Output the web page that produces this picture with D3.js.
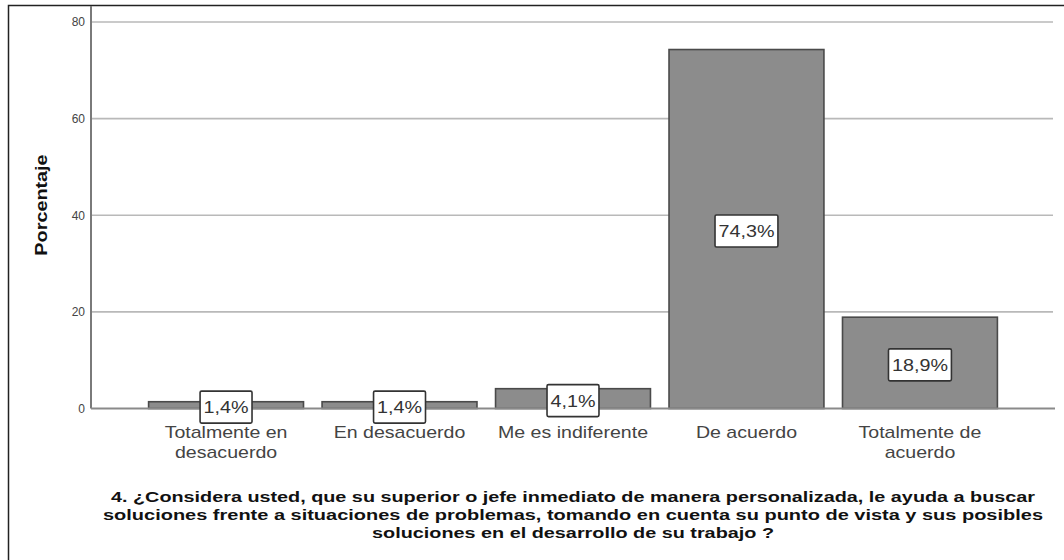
<!DOCTYPE html>
<html>
<head>
<meta charset="utf-8">
<script src="https://cdn.jsdelivr.net/npm/d3@7"></script>
<style>
  html, body { margin: 0; padding: 0; background: #fff; }
  svg { display: block; }
  text { font-family: "Liberation Sans", Arial, sans-serif; }
</style>
</head>
<body>
<svg id="chart" width="1064" height="560"></svg>
<script>
// Response categories (two-line labels where the original wraps)
const categories = [
  ["Totalmente en", "desacuerdo"],
  ["En desacuerdo"],
  ["Me es indiferente"],
  ["De acuerdo"],
  ["Totalmente de", "acuerdo"]
];
// Percentage of respondents for each category
const percentages = [1.4, 1.4, 4.1, 74.3, 18.9];
// Y axis ticks
const yTicks = [0, 20, 40, 60, 80];
const yTitle = "Porcentaje";
const titleLines = [
  "4. ¿Considera usted, que su superior o jefe inmediato de manera personalizada, le ayuda a buscar",
  "soluciones frente a situaciones de problemas, tomando en cuenta su punto de vista y sus posibles",
  "soluciones en el desarrollo de su trabajo ?"
];

const svg = d3.select("#chart");

// Widen a text element's glyphs horizontally by a factor
function stretch(sel, k) {
  sel.each(function () {
    const w = this.getComputedTextLength();
    d3.select(this).attr("textLength", w * k).attr("lengthAdjust", "spacingAndGlyphs");
  });
}

// Frame around the chart (left and top edges visible)
svg.append("rect")
  .attr("x", 8.5).attr("y", 5.5)
  .attr("width", 1070).attr("height", 570)
  .attr("fill", "none").attr("stroke", "#222").attr("stroke-width", 1.5);

const plot = { left: 91, right: 1055, top: 22, bottom: 408.5 };

const x = d3.scaleBand()
  .domain(d3.range(categories.length))
  .range([plot.left, plot.right])
  .paddingInner(0.107)
  .paddingOuter(0.332);

const y = d3.scaleLinear()
  .domain([0, 80])
  .range([plot.bottom, plot.top]);

// Horizontal gridlines
svg.append("g")
  .selectAll("line")
  .data(yTicks.filter(t => t > 0))
  .join("line")
  .attr("x1", plot.left).attr("x2", plot.right - 2)
  .attr("y1", d => y(d)).attr("y2", d => y(d))
  .attr("stroke", "#b9b9b9").attr("stroke-width", 1.6);

// Y axis with tick labels
const yAxis = svg.append("g")
  .attr("transform", `translate(${plot.left},0)`)
  .call(d3.axisLeft(y).tickValues(yTicks).tickSize(0).tickPadding(6));
yAxis.select(".domain").remove();
yAxis.selectAll("text")
  .attr("font-size", 12)
  .attr("fill", "#444")
  .attr("font-family", "'Liberation Sans Narrow', 'Liberation Sans', Arial, sans-serif");

// Bars
svg.append("g")
  .selectAll("rect")
  .data(percentages)
  .join("rect")
  .attr("x", (d, i) => x(i))
  .attr("y", d => y(d))
  .attr("width", x.bandwidth())
  .attr("height", d => y(0) - y(d))
  .attr("fill", "#8c8c8c")
  .attr("stroke", "#4a4a4a")
  .attr("stroke-width", 1.6);

// Axis lines
svg.append("line")
  .attr("x1", plot.left).attr("x2", plot.left)
  .attr("y1", plot.top - 16).attr("y2", plot.bottom)
  .attr("stroke", "#7a7a7a").attr("stroke-width", 2);
svg.append("line")
  .attr("x1", plot.left).attr("x2", plot.right)
  .attr("y1", plot.bottom).attr("y2", plot.bottom)
  .attr("stroke", "#8a8a8a").attr("stroke-width", 2);

// Value labels in boxes at the middle of each bar
const labels = svg.append("g")
  .selectAll("g")
  .data(percentages)
  .join("g")
  .attr("transform", (d, i) =>
    `translate(${x(i) + x.bandwidth() / 2},${(y(d) + y(0)) / 2 + 2})`);

labels.append("text")
  .attr("text-anchor", "middle")
  .attr("dy", "0.36em")
  .attr("font-size", 17)
  .attr("fill", "#333")
  .text(d => d.toFixed(1).replace(".", ",") + "%")
  .call(stretch, 1.16);

labels.each(function () {
  const g = d3.select(this);
  const w = +g.select("text").attr("textLength") + 7;
  g.insert("rect", "text")
    .attr("x", -w / 2).attr("y", -16)
    .attr("width", w).attr("height", 32)
    .attr("rx", 1.5)
    .attr("fill", "#fff")
    .attr("stroke", "#333")
    .attr("stroke-width", 1.6);
});

// Category labels, one text element per line
const catG = svg.append("g")
  .selectAll("g")
  .data(categories)
  .join("g")
  .attr("transform", (d, i) => `translate(${x(i) + x.bandwidth() / 2},438)`);
catG.selectAll("text")
  .data(d => d)
  .join("text")
  .attr("text-anchor", "middle")
  .attr("font-size", 17)
  .attr("fill", "#444")
  .attr("y", (d, i) => i * 19.5)
  .text(d => d)
  .call(stretch, 1.15);

// Y axis title
svg.append("text")
  .attr("transform", "translate(47,205) rotate(-90)")
  .attr("text-anchor", "middle")
  .attr("font-size", 16.5)
  .attr("font-weight", "bold")
  .attr("fill", "#111")
  .text(yTitle)
  .call(stretch, 1.2);

// Chart title, three centred lines
const titleWidths = [924, 940, 402];
svg.append("g")
  .selectAll("text")
  .data(titleLines)
  .join("text")
  .attr("x", (plot.left + plot.right) / 2)
  .attr("y", (d, i) => 502 + i * 18)
  .attr("text-anchor", "middle")
  .attr("font-size", 15.5)
  .attr("font-weight", "bold")
  .attr("fill", "#111")
  .attr("textLength", (d, i) => titleWidths[i])
  .attr("lengthAdjust", "spacingAndGlyphs")
  .text(d => d);
</script>
</body>
</html>
